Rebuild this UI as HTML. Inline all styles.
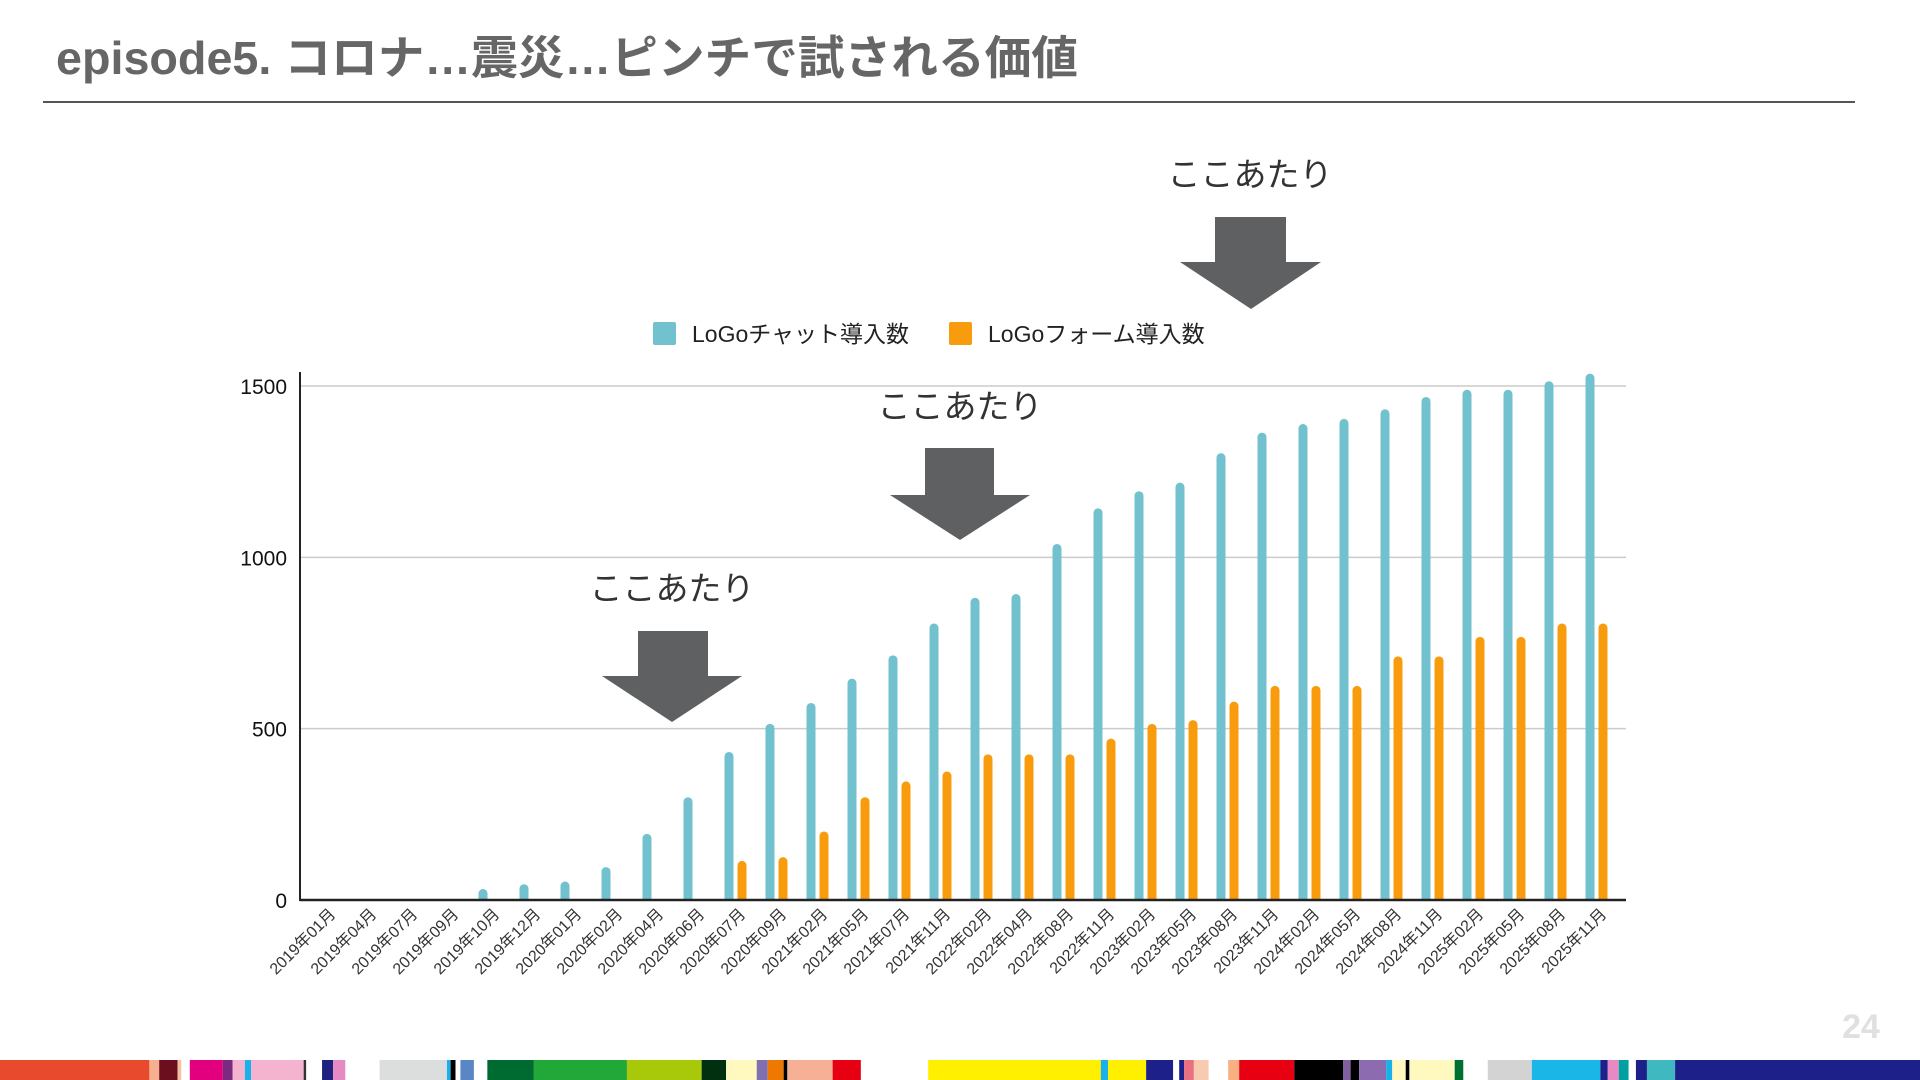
<!DOCTYPE html>
<html><head><meta charset="utf-8"><style>
html,body{margin:0;padding:0;background:#fff;}
svg{display:block;}
text{font-family:"Liberation Sans","Noto Sans CJK JP",sans-serif;}
</style></head><body>
<svg id="chart" width="1920" height="1080" viewBox="0 0 1920 1080" xmlns="http://www.w3.org/2000/svg">
<text x="56" y="74" font-size="46" font-weight="bold" fill="#666" textLength="1022" lengthAdjust="spacingAndGlyphs">episode5. コロナ…震災…ピンチで試される価値</text>
<line x1="43" y1="102" x2="1855" y2="102" stroke="#555" stroke-width="2"/>
<g id="grid"></g>
<g id="bars"></g>
<g id="xlabels"></g>
<g id="legend">
<rect x="653" y="322" width="23" height="23" rx="2" fill="#72c1ce"/>
<text x="692" y="342" font-size="23" fill="#222">LoGoチャット導入数</text>
<rect x="949" y="322" width="23" height="23" rx="2" fill="#f89c0e"/>
<text x="988" y="342" font-size="23" fill="#222">LoGoフォーム導入数</text>
</g>
<g fill="#333" font-size="33" text-anchor="middle">
<text x="672" y="600">ここあたり</text>
<text x="960" y="418">ここあたり</text>
<text x="1250" y="186">ここあたり</text>
</g>
<g fill="#5f6062">
<polygon points="638,631 708,631 708,676 742,676 672,722 602,676 638,676"/>
<polygon points="925,448 994,448 994,495 1030,495 960,540 890,495 925,495"/>
<polygon points="1215,217 1286,217 1286,262 1321,262 1251,309 1180,262 1215,262"/>
</g>
<text x="1861" y="1038" font-size="34" font-weight="bold" fill="#e0e0e0" text-anchor="middle">24</text>
<svg x="0" y="1060" width="1920" height="20" viewBox="0 0 1568 20" preserveAspectRatio="none" id="colorbar"></svg>
</svg>
<script>
const categories = ["2019年01月","2019年04月","2019年07月","2019年09月","2019年10月","2019年12月","2020年01月","2020年02月","2020年04月","2020年06月","2020年07月","2020年09月","2021年02月","2021年05月","2021年07月","2021年11月","2022年02月","2022年04月","2022年08月","2022年11月","2023年02月","2023年05月","2023年08月","2023年11月","2024年02月","2024年05月","2024年08月","2024年11月","2025年02月","2025年05月","2025年08月","2025年11月"];
const chatValues = [0,0,0,0,32,46,54,96,193,300,432,514,575,646,714,807,882,893,1039,1143,1193,1218,1304,1364,1389,1404,1432,1468,1489,1489,1514,1536];
const formValues = [0,0,0,0,0,0,0,0,0,0,114,125,200,300,346,375,425,425,425,471,514,525,579,625,625,625,711,711,768,768,807,807];
const yTicks = [0,500,1000,1500];
const stripeColors = [[0,122,"#e84a2e"],[122,130,"#f5b090"],[130,145,"#6b0f1f"],[145,148,"#f5c0a0"],[155,182,"#e3007f"],[182,190,"#7b2a7f"],[190,200,"#f4b4d0"],[200,205,"#1ab0e8"],[205,248,"#f4b4d0"],[248,250,"#333"],[263,272,"#1f2180"],[272,282,"#e78ac3"],[310,365,"#dcdddd"],[365,368,"#1ab0e8"],[368,372,"#000"],[376,387,"#5b86c5"],[398,436,"#006b30"],[436,512,"#22a838"],[512,573,"#a7c90a"],[573,593,"#003010"],[593,618,"#fff9c0"],[618,627,"#8070b0"],[627,640,"#ee7800"],[640,643,"#000"],[643,680,"#f5b095"],[680,703,"#e60012"],[758,899,"#fff000"],[899,905,"#1ab0e8"],[905,936,"#fff000"],[936,958,"#1d2088"],[963,967,"#1d2088"],[967,975,"#e87080"],[975,987,"#f8cab0"],[1003,1012,"#f8b080"],[1012,1057,"#e60012"],[1057,1097,"#000"],[1097,1103,"#8060a0"],[1103,1110,"#000"],[1110,1132,"#8c6bb1"],[1132,1137,"#1ab0e8"],[1137,1148,"#fff9c0"],[1148,1151,"#000"],[1151,1188,"#fff9c0"],[1188,1195,"#007030"],[1215,1251,"#d3d3d3"],[1251,1307,"#1ab6e8"],[1307,1313,"#1d2088"],[1313,1322,"#e78ac3"],[1322,1330,"#00a0a0"],[1336,1345,"#1d2088"],[1345,1368,"#40b8c0"],[1368,1568,"#1d2088"]];

const NS = "http://www.w3.org/2000/svg";
const plotL = 300, plotR = 1626, barsR = 1612, plotTop = 386, plotBottom = 900, maxV = 1500;
const band = (barsR - plotL) / categories.length;
function yScale(v){ return plotBottom - v / maxV * (plotBottom - plotTop); }
function xCenter(i){ return plotL + band * (i + 0.5); }
function mk(tag, attrs, parent){ const e = document.createElementNS(NS, tag); for (const k in attrs) e.setAttribute(k, attrs[k]); parent.appendChild(e); return e; }

const grid = document.getElementById('grid');
yTicks.forEach(t => {
  if (t > 0) {
    const l = mk('line', {x1: plotL, x2: plotR, y1: yScale(t), y2: yScale(t), stroke: '#ccc', 'stroke-width': 1.5}, grid);
    
    
  }
  const tx = mk('text', {x: 287, y: yScale(t) + 8, 'font-size': 21, 'text-anchor': 'end', fill: '#111'}, grid);
  tx.textContent = t;
  
  
});
const yAxis = mk('line', {x1: plotL, x2: plotL, y1: 372, y2: plotBottom + 1, stroke: '#222', 'stroke-width': 2}, grid);



const bars = document.getElementById('bars');
const bw = 9;
function bar(cx, v, color, name){
  if (v <= 0) return;
  const y = yScale(v);
  const p = mk('path', {d: `M${cx-bw/2},${plotBottom} V${y+bw/2} A${bw/2},${bw/2} 0 0 1 ${cx+bw/2},${y+bw/2} V${plotBottom} Z`, fill: color}, bars);
  
  
}
categories.forEach((c, i) => {
  const cx = xCenter(i);
  bar(cx - 1.5, chatValues[i], '#72c1ce', 'bar-chat');
  bar(cx + 11.5, formValues[i], '#f89c0e', 'bar-form');
});
const xAxis = mk('line', {x1: plotL, x2: plotR, y1: plotBottom, y2: plotBottom, stroke: '#222', 'stroke-width': 2.5}, bars);



const xl = document.getElementById('xlabels');
categories.forEach((c, i) => {
  const x = xCenter(i) + 16, y = 915;
  const t = mk('text', {x: x, y: y, 'font-size': 16, 'text-anchor': 'end', fill: '#333', transform: `rotate(-45 ${x} ${y})`}, xl);
  t.textContent = c;
  
  
});

const cb = document.getElementById('colorbar');
stripeColors.forEach(s => {
  const r = mk('rect', {x: s[0], y: 0, width: s[1] - s[0], height: 20, fill: s[2]}, cb);
  
  
});
</script>
</body></html>
